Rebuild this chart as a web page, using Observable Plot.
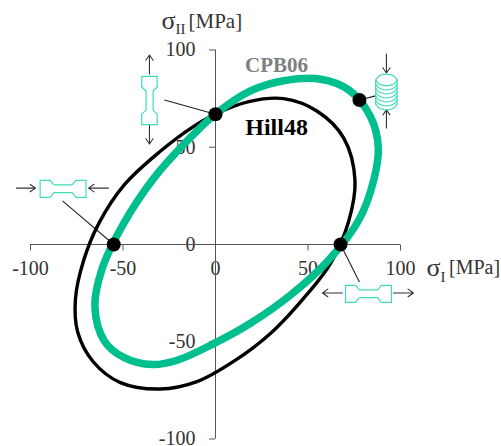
<!DOCTYPE html>
<html>
<head>
<meta charset="utf-8">
<style>html,body{margin:0;padding:0;background:#fff}svg{display:block}</style>
<script src="https://cdn.jsdelivr.net/npm/d3@7"></script>
<script src="https://cdn.jsdelivr.net/npm/@observablehq/plot@0.6"></script>
</head>
<body>
<div id="chart"></div>
<script>
const tickValues = [-100, -50, 0, 50, 100];

const hill48X = [0, 18, 36.9, 55, 69.4, 75.4, 72, 62.2, 50, 30, 10, -10, -30, -51.4, -66, -74.5, -75.7, -71.2, -63, -49, -30, -13];
const hill48Y = [67.1, 73.5, 75, 68.5, 54.6, 33, 12, -9.7, -25, -45.5, -60, -70.5, -74.3, -71, -60.4, -45, -28, -8, 11, 31, 47.8, 60];

const cpb06X = [0, 18.9, 37, 56.8, 72, 83.8, 88, 85.5, 77.5, 60.4, 40.5, 18.9, -1, -20.7, -34, -49.6, -60, -65.2, -61.2, -49.6, -33.4, -16];
const cpb06Y = [67.1, 79, 84.2, 85, 79.5, 65.7, 50, 33, 12.6, -8.8, -26, -40.5, -51, -59.5, -61.7, -58, -49.7, -32, -12.2, 10.9, 34, 52.6];

const testPointsX = [0, -55, 67.6, 77.8];
const testPointsY = [67, 0, 0, 74.3];

// annotation geometry, in axis units
const leaders = [
  [-27.6, 74.3, 0, 67],
  [-82.7, 22.4, -55, 0],
  [67.6, 0, 77.8, -19.3],
  [77.8, 74.3, 86.5, 76.4]
];
const arrows = [
  [-107.6, 29, -97.3, 29],
  [-57.8, 29, -68.6, 29],
  [-35.7, 87.7, -35.7, 97.4],
  [-35.7, 61.4, -35.7, 51.7],
  [68.6, -24.9, 57.8, -24.9],
  [96.2, -24.9, 107, -24.9],
  [92.4, 97.9, 92.4, 88.2],
  [92.4, 59.9, 92.4, 69.2]
];
const boneLong = [-12.4, -7, -4.9, 4.9, 7, 12.4, 12.4, 7, 4.9, -4.9, -7, -12.4, -12.4];
const boneWide = [4.4, 4.4, 2.1, 2.1, 4.4, 4.4, -4.4, -4.4, -1.9, -1.9, -4.4, -4.4, 4.4];
const horizontalBones = [[-82.4, 28.6], [82.7, -25.4]];
const verticalBones = [[-35.7, 74]];
const arcDX = [-5.8, -4.3, -2.2, 0, 2.2, 4.3, 5.8];
const arcDY = [0, 1.8, 2.7, 3, 2.7, 1.8, 0];
const stackCentre = [92.4, 84.6];
const stackSteps = [0, 1, 2, 3, 4, 5, 6];
const stackStep = 2.06;

const hill48 = hill48X.map((x, i) => ({x, y: hill48Y[i]}));
const cpb06 = cpb06X.map((x, i) => ({x, y: cpb06Y[i]}));
const testPoints = testPointsX.map((x, i) => ({x, y: testPointsY[i]}));

const iconPts = [];
let iconId = 0;
horizontalBones.forEach(([cx, cy]) => {
  iconId++;
  boneLong.forEach((l, i) => iconPts.push({id: iconId, x: cx + l, y: cy + boneWide[i]}));
});
verticalBones.forEach(([cx, cy]) => {
  iconId++;
  boneLong.forEach((l, i) => iconPts.push({id: iconId, x: cx + boneWide[i] * 0.95, y: cy + l}));
});
[-5.8, 5.8].forEach(dx => {
  iconId++;
  iconPts.push({id: iconId, x: stackCentre[0] + dx, y: stackCentre[1]});
  iconPts.push({id: iconId, x: stackCentre[0] + dx, y: stackCentre[1] - 6 * stackStep});
});
const arcPts = [];
let arcId = 0;
arcId++;
arcDX.forEach((dx, i) => arcPts.push({id: arcId, x: stackCentre[0] + dx, y: stackCentre[1] + arcDY[i]}));
stackSteps.forEach(s => {
  arcId++;
  arcDX.forEach((dx, i) => arcPts.push({id: arcId, x: stackCentre[0] + dx, y: stackCentre[1] - s * stackStep - arcDY[i]}));
});

const serif = "'Liberation Serif', 'Times New Roman', serif";
const teal = "#3fdcbc";
const dark = "#333333";

const label = (text, x, y, opts = {}) =>
  Plot.text([text], {x: () => x, y: () => y, text: d => d, textAnchor: "start", fontSize: 20, fill: dark, fontFamily: serif, ...opts});

const chart = Plot.plot({
  width: 501,
  height: 446,
  marginLeft: 215,
  marginBottom: 201.5,
  marginTop: 0,
  marginRight: 0,
  style: {fontFamily: serif, background: "#fff", overflow: "visible"},
  x: {domain: [-100, 100], range: [30, 400], label: null},
  y: {domain: [-100, 100], range: [438.5, 49.5], label: null},
  marks: [
    Plot.axisX({anchor: "bottom", ticks: tickValues, tickSize: 6, tickPadding: 10, tickFormat: d => String(d), fontSize: 20, stroke: "#555", fill: dark, label: null}),
    Plot.axisY({anchor: "left", ticks: tickValues, tickSize: 6, tickPadding: 14, tickFormat: d => String(d), fontSize: 20, stroke: "#555", fill: dark, label: null}),
    Plot.ruleY([0], {x1: -100, x2: 100, stroke: "#555", strokeWidth: 1}),
    Plot.ruleX([0], {y1: -100, y2: 100, stroke: "#555", strokeWidth: 1}),

    Plot.link(leaders, {x1: d => d[0], y1: d => d[1], x2: d => d[2], y2: d => d[3], stroke: "#222", strokeWidth: 1.1}),
    Plot.arrow(arrows, {x1: d => d[0], y1: d => d[1], x2: d => d[2], y2: d => d[3], stroke: dark, strokeWidth: 1.1, headLength: 9, headAngle: 70, bend: 0, insetStart: 0, insetEnd: 0}),
    Plot.line(iconPts, {x: "x", y: "y", z: "id", stroke: teal, strokeWidth: 1.2}),
    Plot.line(arcPts, {x: "x", y: "y", z: "id", stroke: teal, strokeWidth: 1.2, curve: "natural"}),

    Plot.line(hill48, {x: "x", y: "y", curve: "catmull-rom-closed", stroke: "#000", strokeWidth: 3.4}),
    Plot.line(cpb06, {x: "x", y: "y", curve: "catmull-rom-closed", stroke: "#00bf8f", strokeWidth: 7.5}),
    Plot.dot(testPoints, {x: "x", y: "y", r: 7, fill: "#000", stroke: "none"}),

    label("CPB06", 33, 92.3, {textAnchor: "middle", fontWeight: "bold", fontSize: 21, fill: "#808080"}),
    label("Hill48", 33, 60.4, {textAnchor: "middle", fontWeight: "bold", fontSize: 24, fill: "#000"}),

    label("σ", -29.2, 115, {fontSize: 26}),
    label("II", -21.6, 110.5, {fontSize: 15}),
    label("[MPa]", -14.6, 115, {fontSize: 21}),
    label("σ", 114, -12.1, {fontSize: 26}),
    label("I", 121.6, -16.6, {fontSize: 15}),
    label("[MPa]", 126.2, -12.1)
  ]
});
document.getElementById("chart").appendChild(chart);
</script>
</body>
</html>
